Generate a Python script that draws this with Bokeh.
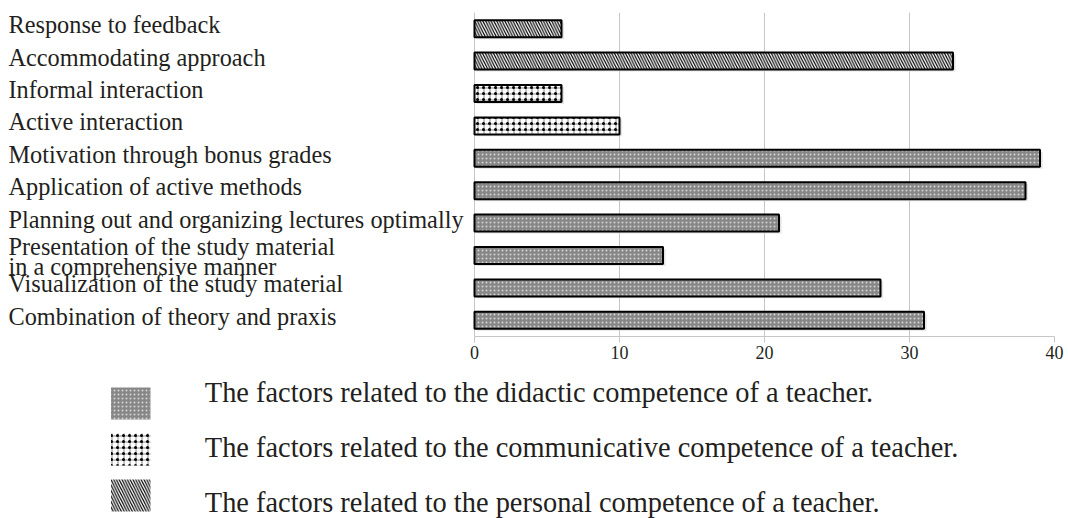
from bokeh.plotting import figure
from bokeh.models import Range1d, FactorRange, FixedTicker, ColumnDataSource
from bokeh.layouts import column
from bokeh.transform import dodge
from bokeh.core.properties import value
from bokeh.embed import file_html
from bokeh.resources import INLINE

# ---------------- data ----------------
categories = [
    "Response to feedback",
    "Accommodating approach",
    "Informal interaction",
    "Active interaction",
    "Motivation through bonus grades",
    "Application of active methods",
    "Planning out and organizing lectures optimally",
    "Presentation of the study material\nin a comprehensive manner",
    "Visualization of the study material",
    "Combination of theory and praxis",
]
values = [6, 33, 6, 10, 39, 38, 21, 13, 28, 31]
groups = ["personal", "personal", "communicative", "communicative",
          "didactic", "didactic", "didactic", "didactic", "didactic", "didactic"]
x_ticks = [0, 10, 20, 30, 40]
legend_groups = ["didactic", "communicative", "personal"]
legend_labels = [
    "The factors related to the didactic competence of a teacher.",
    "The factors related to the communicative competence of a teacher.",
    "The factors related to the personal competence of a teacher.",
]

# ---------------- styles (layers of fill / hatch) ----------------
FONT = "Liberation Serif"
TXT = "#231f20"
GRID = "#c6c6c6"
STYLE = {
    "didactic": [dict(fill_color="#878787", hatch_pattern="dot", hatch_color="#dcdcdc",
                      hatch_scale=4, hatch_weight=0.5, hatch_alpha=0.9)],
    "communicative": [dict(fill_color="white", hatch_pattern="cross", hatch_color="black",
                           hatch_scale=6, hatch_weight=0.6, hatch_alpha=0.8),
                      dict(fill_alpha=0, hatch_pattern="dot", hatch_color="black",
                           hatch_scale=6, hatch_weight=1, hatch_alpha=1.0)],
    "personal": [dict(fill_color="white", hatch_pattern="left_diagonal_line", hatch_color="black",
                      hatch_scale=5.5, hatch_weight=1.2, hatch_alpha=1.0)],
}

W, H = 1068, 372
ZERO_PX = 474      # canvas x of value 0
FRAME_R = 1054     # canvas x of value 40
FRAME_T, FRAME_B = 12, 336
px_per_unit = (FRAME_R - ZERO_PX) / x_ticks[-1]
xmin = -ZERO_PX / px_per_unit

p = figure(width=W, height=H, output_backend="svg", toolbar_location=None,
           x_range=Range1d(xmin, x_ticks[-1]),
           y_range=FactorRange(factors=list(reversed(categories))),
           y_axis_location=None, x_axis_location="below",
           min_border_left=0, min_border_right=W - FRAME_R,
           min_border_top=FRAME_T, min_border_bottom=H - FRAME_B,
           outline_line_color=None, background_fill_color="white",
           border_fill_color="white")

ax = p.xaxis[0]
ax.ticker = FixedTicker(ticks=x_ticks)
ax.bounds = (x_ticks[0], x_ticks[-1])
ax.axis_line_color = GRID
ax.axis_line_width = 1
ax.major_tick_line_color = GRID
ax.major_tick_out = 6
ax.major_tick_in = 0
ax.minor_tick_line_color = None
ax.major_label_text_font = FONT
ax.major_label_text_font_size = "18px"
ax.major_label_text_color = TXT
ax.major_label_standoff = 3

p.xgrid.ticker = FixedTicker(ticks=x_ticks)
p.xgrid.grid_line_color = GRID
p.xgrid.grid_line_width = 1
p.ygrid.visible = False

BAR_H = 0.525

# soft shadows
shadow = ColumnDataSource(dict(cat=categories, right=[v + 0.18 for v in values]))
p.hbar(y=dodge("cat", -0.06, range=p.y_range), left=0.15, right="right", height=BAR_H,
       source=shadow, fill_color="#dedede", fill_alpha=0.8, line_color=None)

for g in ["didactic", "communicative", "personal"]:
    idx = [i for i, gg in enumerate(groups) if gg == g]
    src = ColumnDataSource(dict(cat=[categories[i] for i in idx],
                                val=[values[i] for i in idx]))
    layers = STYLE[g]
    for j, layer in enumerate(layers):
        last = j == len(layers) - 1
        p.hbar(y="cat", left=0, right="val", height=BAR_H, source=src,
               line_color="black" if last else None, line_width=2, **layer)

# category labels, left aligned near the canvas edge
lab = ColumnDataSource(dict(
    x=[xmin] * len(categories), cat=categories, text=categories,
    yoff=[1 if "\n" in c else -4 for c in categories]))
p.text(x="x", y="cat", text="text", source=lab, x_offset=8, y_offset="yoff",
       text_font=value(FONT), text_font_size="24.3px", text_color=TXT,
       text_align="left", text_baseline="middle", text_line_height=0.75)

# ---------------- legend ----------------
LH = 518 - H
q = figure(width=W, height=LH, output_backend="svg", toolbar_location=None,
           x_range=Range1d(0, W), y_range=Range1d(LH, 0),
           x_axis_location=None, y_axis_location=None,
           min_border=0, min_border_left=0, min_border_right=0,
           min_border_top=0, min_border_bottom=0,
           outline_line_color=None, background_fill_color="white",
           border_fill_color="white")
for g in q.grid:
    g.visible = False

SW_X, SW_Y0, SW_STEP = 132, 403 - H, 46
TX_X, TX_Y0, TX_STEP = 207, 392 - H, 55
for k, g in enumerate(legend_groups):
    for layer in STYLE[g]:
        q.rect(x=[SW_X], y=[SW_Y0 + SW_STEP * k], width=40, height=32,
               line_color=None, **layer)
lsrc = ColumnDataSource(dict(x=[TX_X] * 3, y=[TX_Y0 + TX_STEP * k for k in range(3)],
                             text=legend_labels))
q.text(x="x", y="y", text="text", source=lsrc, text_font=value(FONT),
       text_font_size="28.4px", text_color=TXT, text_align="left", text_baseline="middle")

layout = column(p, q, spacing=0)
open("out.html", "w").write(file_html(layout, INLINE))
